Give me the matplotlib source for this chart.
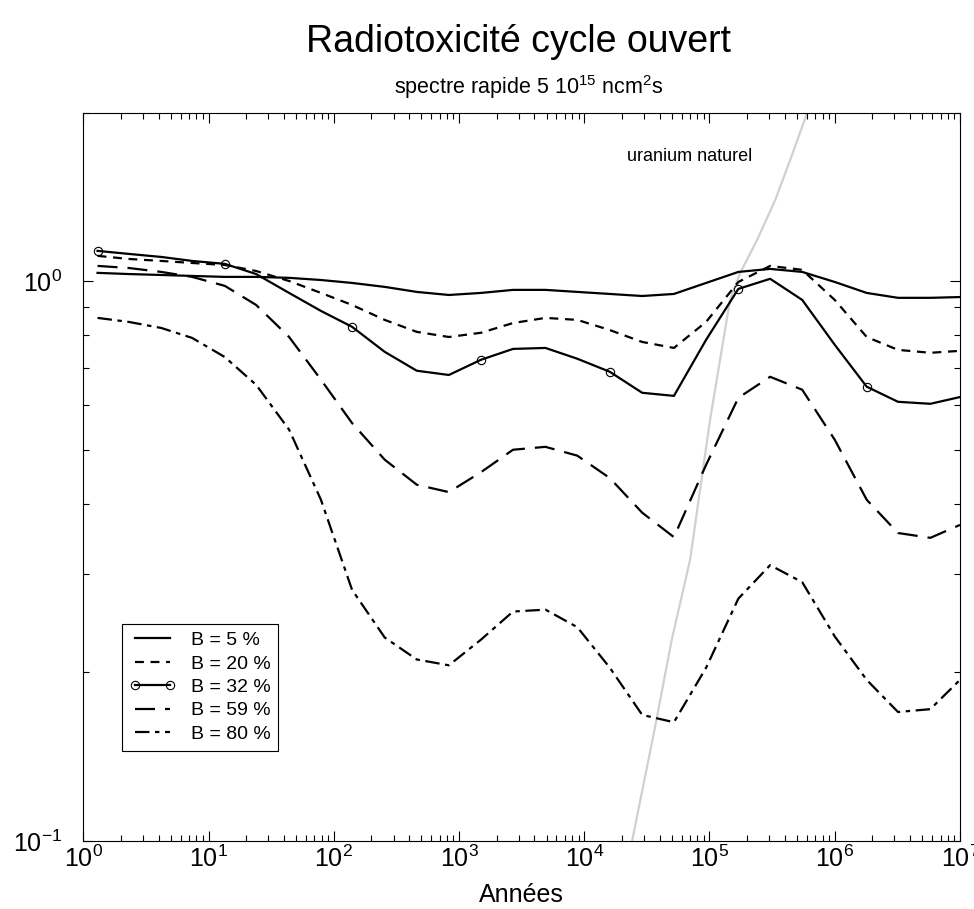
import matplotlib
matplotlib.use("Agg")
import matplotlib.pyplot as plt
from matplotlib.lines import Line2D
from matplotlib.ticker import NullFormatter, LogLocator

plt.rcParams['font.family'] = ['Liberation Sans', 'DejaVu Sans']
plt.rcParams['mathtext.fontset'] = 'custom'
plt.rcParams['mathtext.rm'] = 'Liberation Sans'
plt.rcParams['mathtext.it'] = 'Liberation Sans:italic'
plt.rcParams['mathtext.bf'] = 'Liberation Sans:bold'

# Data (years, relative radiotoxicity)
years = [1.3, 2.3, 4.2, 7.4, 13.5, 24, 44, 79, 140, 255, 460, 830,
         1500, 2700, 4900, 8800, 16000, 29000, 52000, 94000, 170000,
         305000, 550000, 1.0e6, 1.8e6, 3.2e6, 5.8e6, 1.0e7]

b5 = [1.035, 1.030, 1.026, 1.022, 1.018, 1.018, 1.014, 1.005, 0.993, 0.977,
      0.957, 0.945, 0.953, 0.965, 0.965, 0.957, 0.949, 0.941, 0.949, 0.993,
      1.039, 1.052, 1.039, 0.997, 0.953, 0.934, 0.934, 0.937]
b20 = [1.110, 1.096, 1.087, 1.078, 1.069, 1.043, 1.001, 0.953, 0.907, 0.853,
       0.812, 0.795, 0.809, 0.842, 0.860, 0.853, 0.818, 0.779, 0.760, 0.846,
       0.997, 1.065, 1.048, 0.926, 0.795, 0.754, 0.745, 0.751]
b32 = [1.133, 1.119, 1.105, 1.087, 1.074, 1.030, 0.953, 0.885, 0.829, 0.748,
       0.692, 0.680, 0.724, 0.757, 0.760, 0.727, 0.689, 0.632, 0.624, 0.786,
       0.969, 1.010, 0.926, 0.770, 0.648, 0.609, 0.604, 0.621]
b59 = [1.065, 1.056, 1.039, 1.018, 0.981, 0.907, 0.795, 0.667, 0.558, 0.480,
       0.433, 0.420, 0.456, 0.500, 0.506, 0.488, 0.445, 0.386, 0.349, 0.470,
       0.619, 0.675, 0.640, 0.521, 0.407, 0.355, 0.348, 0.367]
b80 = [0.860, 0.846, 0.825, 0.792, 0.732, 0.653, 0.543, 0.407, 0.281, 0.231,
       0.211, 0.206, 0.229, 0.257, 0.259, 0.241, 0.204, 0.168, 0.163, 0.204,
       0.271, 0.311, 0.290, 0.232, 0.194, 0.170, 0.172, 0.194]
b32_marks = [0, 4, 8, 12, 16, 20, 24]

labels = ["B = 5 %", "B = 20 %", "B = 32 %", "B = 59 %", "B = 80 %"]

# natural uranium reference line
u_years = [2.2e4, 2.41e4, 3.68e4, 5.0e4, 7.0e4, 1.01e5, 1.46e5, 1.76e5,
           2.4e5, 3.35e5, 4.41e5, 6.03e5, 6.5e5]
u_tox = [0.09, 0.1, 0.16, 0.229, 0.318, 0.565, 0.927, 1.035,
         1.185, 1.397, 1.647, 2.0, 2.15]

fig = plt.figure(figsize=(9.74, 9.09), dpi=100)
ax = fig.add_axes([0.0855, 0.0748, 0.9001, 0.8012])

ax.plot(u_years, u_tox, color="#d0d0d0", lw=1.6, zorder=1)
ax.plot(years, b5, color="k", lw=1.6, ls="-")
ax.plot(years, b20, color="k", lw=1.6, dashes=[4, 3])
ax.plot(years, b32, color="k", lw=1.6, ls="-", marker="o", markevery=b32_marks,
        ms=6, mfc="none", mec="k", mew=0.8)
ax.plot(years, b59, color="k", lw=1.6, dashes=[9, 4.5])
ax.plot(years, b80, color="k", lw=1.6, dashes=[6.5, 2.5, 2, 2.5])

ax.text(6.9e4, 1.67, "uranium naturel", ha="center", va="center", fontsize=13)

ax.set_xscale("log")
ax.set_yscale("log")
ax.set_xlim(1, 1e7)
ax.set_ylim(0.1, 2)
ax.xaxis.set_major_locator(LogLocator(base=10, numticks=20))
ax.xaxis.set_minor_locator(LogLocator(base=10, subs=range(2, 10), numticks=100))
ax.yaxis.set_minor_formatter(NullFormatter())
ax.xaxis.set_minor_formatter(NullFormatter())
ax.tick_params(which="both", direction="in", top=True, right=True, labelsize=18, width=0.8)
ax.tick_params(which="major", length=7)
ax.tick_params(which="minor", length=4)
ax.tick_params(axis="x", which="major", pad=3)
ax.tick_params(axis="y", which="major", pad=15)
for s in ax.spines.values():
    s.set_linewidth(0.8)

ax.set_xlabel("Années", fontsize=18)
ax.xaxis.set_label_coords(0.5, -0.074)
ax.xaxis.label.set_va("center")

handles = [
    Line2D([], [], color="k", lw=1.6, ls="-"),
    Line2D([], [], color="k", lw=1.6, dashes=[4, 3]),
    Line2D([], [], color="k", lw=1.6, ls="-", marker="o", ms=6, mfc="none", mec="k", mew=0.8),
    Line2D([], [], color="k", lw=1.6, dashes=[9, 4.5]),
    Line2D([], [], color="k", lw=1.6, dashes=[6.5, 2.5, 2, 2.5]),
]
leg = ax.legend(handles, labels, loc="lower left", bbox_to_anchor=(0.044, 0.124),
                fontsize=14, numpoints=2, handlelength=2.4, handletextpad=0.75,
                labelspacing=0.3, borderpad=0.4, borderaxespad=0, fancybox=False,
                framealpha=1, edgecolor="k")
leg.get_frame().set_linewidth(0.8)

fig.text(0.532, 0.943, "Radiotoxicité cycle ouvert", ha="center", va="baseline", fontsize=27)
fig.text(0.543, 0.897, r"spectre rapide 5 10$^{15}$ ncm$^{2}$s", ha="center", va="baseline", fontsize=15.5)

fig.savefig("out.png", dpi=100)
